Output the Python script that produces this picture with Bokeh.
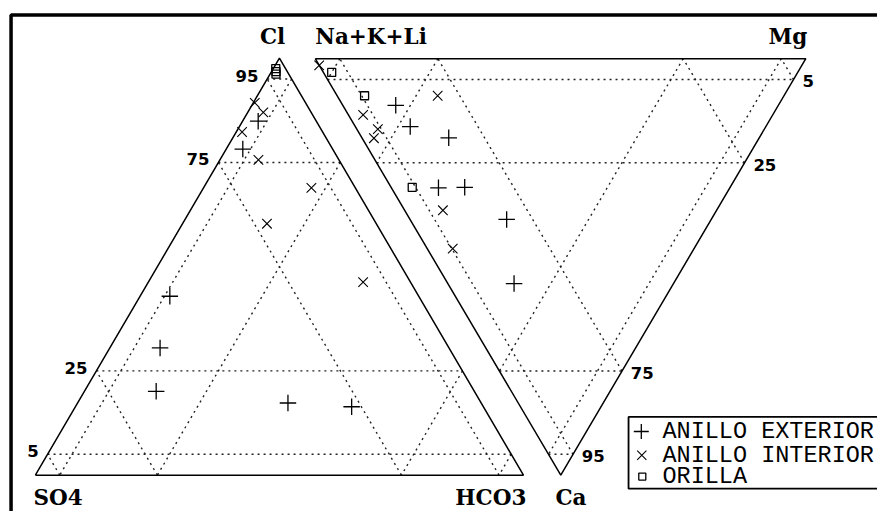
import numpy as np
from bokeh.plotting import figure
from bokeh.models import Range1d
from bokeh.core.properties import value
from bokeh.embed import file_html
from bokeh.resources import INLINE

# ---------------- data (percent) ----------------
group_names = ["ANILLO EXTERIOR", "ANILLO INTERIOR", "ORILLA"]

# anions: Cl, HCO3 (SO4 = rest) ; cations: Ca, Mg (Na+K+Li = rest)
ext_cl = [84.9, 78.2, 42.9, 30.5, 20.1, 17.3, 16.4]
ext_hco3 = [3.2, 3.4, 6.1, 10.3, 14.7, 43.1, 56.6]
ext_ca = [11.2, 16.3, 19.0, 31.0, 30.9, 38.6, 54.0]
ext_mg = [10.8, 11.2, 17.7, 9.6, 15.0, 19.7, 13.5]

int_cl = [89.3, 87.0, 82.3, 75.6, 68.9, 60.3, 46.3]
int_hco3 = [0.3, 3.2, 1.2, 7.9, 22.1, 17.3, 44.0]
int_ca = [1.6, 8.9, 13.5, 16.9, 19.1, 36.4, 45.6]
int_mg = [0.0, 20.5, 3.0, 4.3, 2.4, 7.8, 5.2]

ori_cl = [97.5, 96.8, 96.2]
ori_hco3 = [0.5, 0.9, 1.2]
ori_ca = [3.3, 8.9, 30.9]
ori_mg = [1.7, 5.6, 4.3]

grid_levels = [5, 25, 75, 95]
tick_labels = ["5", "25", "75", "95"]

anion_names = ["SO4", "HCO3", "Cl"]
cation_names = ["Na+K+Li", "Mg", "Ca"]

# ---------------- layout (reference pixel coordinates, 893 x 527) ----------------
L_A, L_B, L_C = (35.5, 489.5), (532.5, 489.5), (284.0, 59.5)   # SO4, HCO3, Cl
R_A, R_B, R_C = (320.5, 60.0), (820.0, 60.0), (570.5, 489.5)   # Na, Mg, Ca

LAB_FS, TICK_FS, LEG_FS = 21.5, 16.5, 23.5
# empirical correction: rendered alphabetic baseline sits lower than requested
def bl(y, fs):
    return y - 0.33 * fs


def tern(va, vb, vc, b, c):
    b = np.asarray(b, dtype=float) / 100.0
    c = np.asarray(c, dtype=float) / 100.0
    a = 1.0 - b - c
    x = a * va[0] + b * vb[0] + c * vc[0]
    y = a * va[1] + b * vb[1] + c * vc[1]
    return x, y


def lerp(u, v, t):
    return (u[0] + (v[0] - u[0]) * t, u[1] + (v[1] - u[1]) * t)


def grid_lines(va, vb, vc):
    xs, ys = [], []
    verts = [va, vb, vc]
    for k in range(3):
        K = verts[k]
        U = verts[(k + 1) % 3]
        V = verts[(k + 2) % 3]
        for lv in grid_levels:
            t = lv / 100.0
            p1 = lerp(U, K, t)
            p2 = lerp(V, K, t)
            xs.append([p1[0], p2[0]])
            ys.append([p1[1], p2[1]])
    return xs, ys


p = figure(width=877, height=511, x_range=Range1d(0, 893), y_range=Range1d(527, 0),
           output_backend="svg", toolbar_location=None, min_border=0,
           x_axis_location=None, y_axis_location=None)
p.grid.visible = False
p.outline_line_color = None
p.background_fill_color = "white"
p.border_fill_color = "white"

# outer thick frame
p.quad(left=[10.75], right=[915], top=[15], bottom=[550], fill_color=None,
       line_color="black", line_width=3.5)

# grids
for (va, vb, vc) in [(L_A, L_B, L_C), (R_A, R_B, R_C)]:
    gx, gy = grid_lines(va, vb, vc)
    p.multi_line(gx, gy, line_color="#222222", line_width=1.4, line_dash="2 4")
    p.line([va[0], vb[0], vc[0], va[0]], [va[1], vb[1], vc[1], va[1]],
           line_color="black", line_width=1.5)

# data points
mk = dict(line_color="black")
x, y = tern(L_A, L_B, L_C, ext_hco3, ext_cl)
p.scatter(x, y, marker="cross", size=16.5, line_width=1.3, **mk)
x, y = tern(R_A, R_B, R_C, ext_mg, ext_ca)
p.scatter(x, y, marker="cross", size=16.5, line_width=1.3, **mk)
x, y = tern(L_A, L_B, L_C, int_hco3, int_cl)
p.scatter(x, y, marker="x", size=13.5, line_width=1.1, **mk)
x, y = tern(R_A, R_B, R_C, int_mg, int_ca)
p.scatter(x, y, marker="x", size=13.5, line_width=1.1, **mk)
x, y = tern(L_A, L_B, L_C, ori_hco3, ori_cl)
p.scatter(x, y, marker="square", size=8, line_width=1.3, fill_color=None, **mk)
x, y = tern(R_A, R_B, R_C, ori_mg, ori_ca)
p.scatter(x, y, marker="square", size=8, line_width=1.3, fill_color=None, **mk)

# vertex labels
lab = dict(text_font=value("DejaVu Serif"), text_font_style="bold",
           text_font_size=f"{LAB_FS}px", text_color="black", text_baseline="alphabetic")
p.text(x=[L_C[0] - 7], y=[bl(44, LAB_FS)], text=[anion_names[2]], text_align="center", **lab)
p.text(x=[R_A[0]], y=[bl(44, LAB_FS)], text=[cation_names[0]], text_align="left", **lab)
p.text(x=[R_B[0] + 1.5], y=[bl(44, LAB_FS)], text=[cation_names[1]], text_align="right", **lab)
p.text(x=[L_A[0] - 2], y=[bl(520, LAB_FS)], text=[anion_names[0]], text_align="left", **lab)
p.text(x=[L_B[0] + 3], y=[bl(519.5, LAB_FS)], text=[anion_names[1]], text_align="right", **lab)
p.text(x=[R_C[0] - 5.5], y=[bl(519.5, LAB_FS)], text=[cation_names[2]], text_align="left", **lab)

# tick labels along edges
tk = dict(text_font=value("DejaVu Sans"), text_font_style="bold",
          text_font_size=f"{TICK_FS}px", text_color="black", text_baseline="alphabetic")
lx, ly, rx, ry = [], [], [], []
for lv in grid_levels:
    ptl = lerp(L_A, L_C, lv / 100.0)
    lx.append(ptl[0] - 9)
    ly.append(bl(ptl[1] + 2, TICK_FS))
    ptr = lerp(R_B, R_C, lv / 100.0)
    rx.append(ptr[0] + 9)
    ry.append(bl(ptr[1] + 7.5, TICK_FS))
p.text(x=lx, y=ly, text=tick_labels, text_align="right", **tk)
p.text(x=rx, y=ry, text=tick_labels, text_align="left", **tk)

# legend
p.quad(left=[639.5], right=[915], top=[429.5], bottom=[503.5], fill_color="white",
       line_color="black", line_width=1.8)
leg_y = [444.5, 469, 491]
p.scatter([652.5], [leg_y[0]], marker="cross", size=15, line_width=1.3, **mk)
p.scatter([653], [leg_y[1]], marker="x", size=13, line_width=1.1, **mk)
p.scatter([653.5], [leg_y[2]], marker="square", size=7, line_width=1.3, fill_color=None, **mk)
p.text(x=[674, 674, 674], y=[bl(v, LEG_FS) for v in (452, 476.5, 499)], text=group_names,
       text_align="left", text_baseline="alphabetic", text_font=value("Liberation Mono"),
       text_font_size=f"{LEG_FS}px", text_color="black")

open("out.html", "w").write(file_html(p, INLINE))
